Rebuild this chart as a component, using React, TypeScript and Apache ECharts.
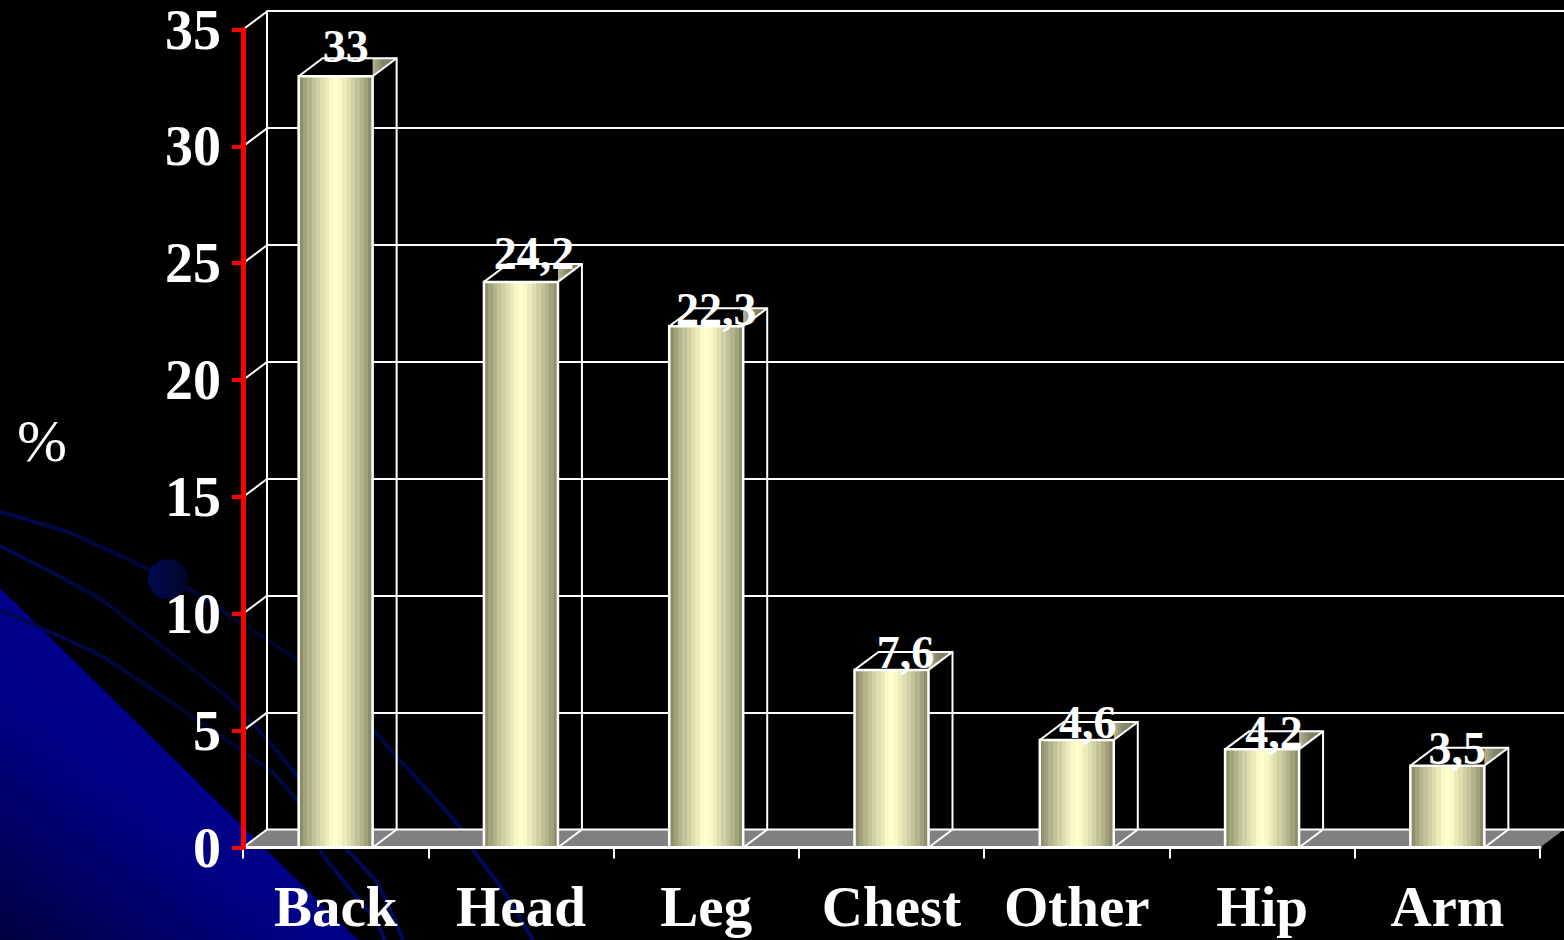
import React, { useEffect, useRef } from "react";
import * as echarts from "echarts";

const categories = ["Back", "Head", "Leg", "Chest", "Other", "Hip", "Arm"];
const values = [33, 24.2, 22.3, 7.6, 4.6, 4.2, 3.5];
const valueLabels = ["33", "24,2", "22,3", "7,6", "4,6", "4,2", "3,5"];
const valueTicks = [0, 5, 10, 15, 20, 25, 30, 35];
const labelShiftX = [10, 13, 10, 14, 11, 12, 10];
const labelShiftY = [-30, -28, -17, -17, -17, -17, -17];
const SERIF = '"Liberation Serif", "Times New Roman", serif';

const DX = 24;
const DY = 18;
const BAR_W = 74;

function bandStops() {
  const stops: { offset: number; color: string }[] = [];
  const n = 17;
  const lo = [128, 128, 96];
  const hi = [255, 255, 204];
  for (let i = 0; i < n; i++) {
    const t = 1 - Math.abs((i + 0.5) / n - 0.5) * 2;
    const k = Math.min(1, Math.pow(t, 0.8) * 1.05);
    const c = lo.map((l, j) => Math.round(l + (hi[j] - l) * k));
    const col = `rgb(${c[0]},${c[1]},${c[2]})`;
    stops.push({ offset: i / n, color: col });
    stops.push({ offset: (i + 1) / n, color: col });
  }
  return stops;
}
const barFill = { type: "linear", x: 0, y: 0, x2: 1, y2: 0, colorStops: bandStops() };
const cornerFill = {
  type: "linear", x: 0, y: 0, x2: 1, y2: 0,
  colorStops: [
    { offset: 0, color: "#b5b595" },
    { offset: 0.4, color: "#85856a" },
    { offset: 1, color: "#77775a" },
  ],
};

const wire = { stroke: "#ffffff", lineWidth: 2, fill: "none" };

function renderBar(params: any, api: any) {
  const i = api.value(0);
  const top = api.coord([i, api.value(1)]);
  const base = api.coord([i, 0]);
  const l = top[0] - BAR_W / 2;
  const r = top[0] + BAR_W / 2;
  return {
    type: "group",
    children: [
      {
        type: "polygon",
        shape: { points: [[r, top[1] - DY], [r + DX, top[1] - DY], [r, top[1]]] },
        style: { fill: cornerFill },
      },
      {
        type: "polyline",
        shape: { points: [[l, top[1]], [l + DX, top[1] - DY], [r + DX, top[1] - DY], [r + DX, base[1] - DY], [r, base[1]]] },
        style: wire,
      },
      {
        type: "line",
        shape: { x1: r, y1: top[1], x2: r + DX, y2: top[1] - DY },
        style: wire,
      },
      {
        type: "rect",
        shape: { x: l, y: top[1], width: BAR_W, height: base[1] - top[1] },
        style: { fill: barFill, stroke: "#ffffff", lineWidth: 2.5 },
      },
      {
        type: "text",
        style: {
          text: valueLabels[i],
          x: top[0] + labelShiftX[i],
          y: top[1] + labelShiftY[i],
          align: "center",
          verticalAlign: "middle",
          fill: "#ffffff",
          font: `bold 46px ${SERIF}`,
        },
      },
    ],
  };
}

function renderFloor(params: any, api: any) {
  const cs = params.coordSys;
  const y0 = cs.y + cs.height;
  const children: any[] = [
    {
      type: "polygon",
      shape: { points: [[cs.x, y0], [cs.x + DX, y0 - DY], [cs.x + cs.width + DX, y0 - DY], [cs.x + cs.width, y0]] },
      style: { fill: "#808080" },
    },
    {
      type: "line",
      shape: { x1: cs.x + DX, y1: y0 - DY, x2: cs.x + cs.width + DX, y2: y0 - DY },
      style: wire,
    },
  ];
  valueTicks.forEach((t) => {
    const y = api.coord([0, t])[1];
    children.push({
      type: "line",
      shape: { x1: cs.x, y1: y, x2: cs.x + DX, y2: y - DY },
      style: wire,
    });
  });
  return { type: "group", children };
}

const curveStyle = {
  stroke: {
    type: "linear", x: 0, y: 0, x2: 1, y2: 0,
    colorStops: [
      { offset: 0, color: "#00084f" },
      { offset: 0.5, color: "#00052e" },
      { offset: 1, color: "#000a60" },
    ],
  },
  lineWidth: 4,
  fill: "none",
};

export default function App() {
  const ref = useRef<HTMLDivElement>(null);
  useEffect(() => {
    document.body.style.margin = "0";
    document.body.style.background = "#000";
    const chart = echarts.init(ref.current!, null, { renderer: "svg" });
    chart.setOption({
      animation: false,
      backgroundColor: "#000000",
      tooltip: { show: false },
      graphic: {
        z: -10,
        elements: [
          {
            type: "polygon",
            shape: { points: [[0, 588], [358, 940], [0, 940]] },
            style: {
              fill: {
                type: "linear", x: 0.6, y: 0.25, x2: 0, y2: 1,
                colorStops: [
                  { offset: 0, color: "#00008f" },
                  { offset: 0.45, color: "#000085" },
                  { offset: 1, color: "#000040" },
                ],
              },
            },
          },
          {
            type: "polyline",
            shape: { smooth: 0.2, points: [[0, 512], [70, 533], [150, 570], [187, 588], [267, 640], [297, 660], [375, 732], [397, 757], [460, 827], [473, 850], [503, 890], [533, 940]] },
            style: curveStyle,
          },
          {
            type: "polyline",
            shape: { smooth: 0.2, points: [[0, 546], [97, 597], [167, 650], [230, 700], [297, 777], [320, 850], [373, 917], [385, 940]] },
            style: curveStyle,
          },
          {
            type: "polyline",
            shape: { smooth: 0.2, points: [[0, 610], [103, 657], [197, 720], [273, 773], [297, 800], [347, 850], [377, 883], [403, 940]] },
            style: curveStyle,
          },
          {
            type: "circle",
            shape: { cx: 168, cy: 579, r: 20 },
            style: {
              fill: {
                type: "linear", x: 0, y: 0, x2: 1, y2: 0,
                colorStops: [
                  { offset: 0, color: "#000a50" },
                  { offset: 1, color: "#00062a" },
                ],
              },
            },
          },
          {
            type: "text",
            style: {
              text: "%",
              x: 42,
              y: 441,
              align: "center",
              verticalAlign: "middle",
              fill: "#ffffff",
              font: `60px ${SERIF}`,
            },
          },
        ],
      },
      grid: [
        { left: 243, top: 29.5, width: 1297, height: 818 },
        { left: 267, top: 11, width: 1297, height: 819 },
      ],
      xAxis: [
        {
          type: "category",
          gridIndex: 0,
          data: categories,
          z: 5,
          axisLine: { lineStyle: { color: "#ffffff", width: 3 } },
          axisTick: { show: true, length: 11, lineStyle: { color: "#ffffff", width: 2 } },
          axisLabel: {
            interval: 0,
            color: "#ffffff",
            fontFamily: SERIF,
            fontWeight: "bold",
            fontSize: 57,
            margin: 30,
          },
        },
        { type: "category", gridIndex: 1, data: categories, show: false },
      ],
      yAxis: [
        {
          type: "value",
          gridIndex: 0,
          min: 0,
          max: 35,
          interval: 5,
          z: 6,
          axisLine: { show: true, lineStyle: { color: "#ff0000", width: 5 } },
          axisTick: { show: true, length: 11, lineStyle: { color: "#ff0000", width: 4 } },
          axisLabel: {
            color: "#ffffff",
            fontFamily: SERIF,
            fontWeight: "bold",
            fontSize: 56,
            margin: 22,
            padding: [6, 0, 0, 0],
          },
          splitLine: { show: false },
        },
        {
          type: "value",
          gridIndex: 1,
          min: 0,
          max: 35,
          interval: 5,
          axisLine: { show: true, lineStyle: { color: "#ffffff", width: 2 } },
          axisTick: { show: false },
          axisLabel: { show: false },
          splitLine: { show: true, lineStyle: { color: "#ffffff", width: 2, type: "solid" } },
        },
      ],
      series: [
        {
          type: "custom",
          name: "floor",
          coordinateSystem: "cartesian2d",
          xAxisIndex: 0,
          yAxisIndex: 0,
          z: 1,
          clip: false,
          silent: true,
          data: [[0, 0]],
          renderItem: renderFloor,
        },
        {
          type: "custom",
          name: "bars",
          coordinateSystem: "cartesian2d",
          xAxisIndex: 0,
          yAxisIndex: 0,
          z: 3,
          clip: false,
          silent: true,
          data: categories.map((_, i) => [i, values[i]]),
          renderItem: renderBar,
        },
      ],
    });
    return () => chart.dispose();
  }, []);
  return <div ref={ref} style={{ width: 1564, height: 940 }} />;
}
